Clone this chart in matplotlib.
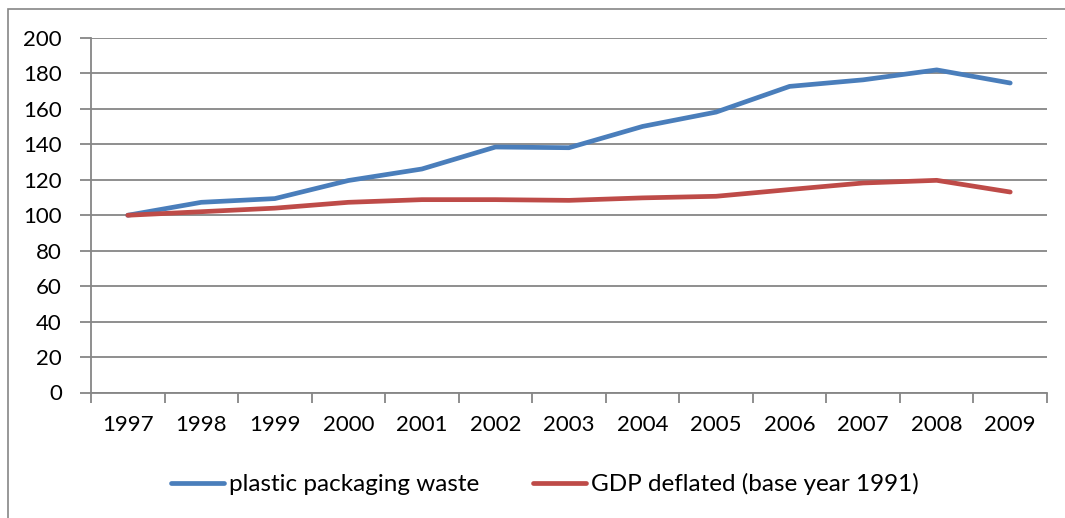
import matplotlib.pyplot as plt
from matplotlib.patches import Rectangle

years = ["1997", "1998", "1999", "2000", "2001", "2002", "2003",
         "2004", "2005", "2006", "2007", "2008", "2009"]
plastic_waste = [100, 107.3, 109.4, 119.6, 126.1, 138.5, 138.1,
                 150.1, 158.2, 172.7, 176.4, 182.0, 174.6]
gdp_deflated = [100, 102.0, 104.0, 107.3, 108.8, 108.8, 108.4,
                109.8, 110.7, 114.5, 118.2, 119.7, 113.1]
y_ticks = list(range(0, 201, 20))

plt.rcParams["font.family"] = ["Lato", "DejaVu Sans"]
grey = "#868686"

fig = plt.figure(figsize=(10.65, 5.18), dpi=100)
W, H = 1065, 518
ax = fig.add_axes([91 / W, 1 - 392.5 / H, (1047 - 91) / W, (392.5 - 38) / H])

x = list(range(len(years)))
ax.plot(x, plastic_waste, color="#4A7EBB", lw=3.4, solid_capstyle="round",
        solid_joinstyle="round", label="plastic packaging waste")
ax.plot(x, gdp_deflated, color="#BE4B48", lw=3.4, solid_capstyle="round",
        solid_joinstyle="round", label="GDP deflated (base year 1991)")

ax.set_xlim(-0.5, len(years) - 0.5)
ax.set_ylim(0, 200)
ax.set_yticks(y_ticks)
ax.grid(axis="y", color=grey, lw=1.3)
ax.set_axisbelow(True)

# category labels in the middle, tick marks on the boundaries
ax.set_xticks(x)
ax.set_xticklabels(years)
ax.set_xticks([i - 0.5 for i in range(len(years) + 1)], minor=True)
ax.tick_params(axis="x", which="major", length=0, pad=16, labelsize=16)
ax.tick_params(axis="x", which="minor", length=7, color=grey, width=1.3)
ax.tick_params(axis="y", length=8, color=grey, width=1.3, pad=13, labelsize=16)

for side in ["top", "right"]:
    ax.spines[side].set_visible(False)
for side in ["left", "bottom"]:
    ax.spines[side].set_color(grey)
    ax.spines[side].set_linewidth(1.3)

leg = fig.legend(loc="center", bbox_to_anchor=(545 / W, 1 - 484 / H), ncol=2,
                 frameon=False, fontsize=17.5, handlelength=2.2,
                 handletextpad=0.2, columnspacing=2.2)

# outer chart border, cut off at the right and bottom edges
fig.patches.append(Rectangle((8 / W, -0.1), 1.2, 1.1 - 9 / H,
                             transform=fig.transFigure, fill=False,
                             edgecolor=grey, lw=1.2))

fig.savefig("out.png", dpi=100)
